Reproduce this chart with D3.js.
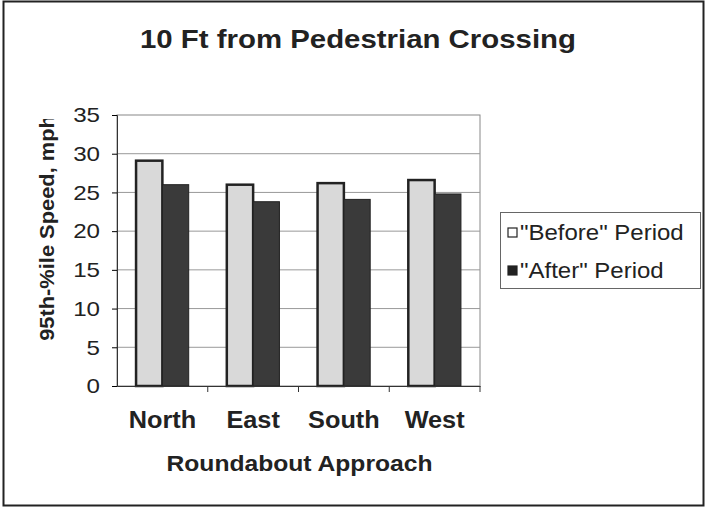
<!DOCTYPE html>
<html>
<head>
<meta charset="utf-8">
<script src="https://cdn.jsdelivr.net/npm/d3@7"></script>
<style>
  body { margin: 0; background: #fff; }
  svg { display: block; font-family: Arial, "Liberation Sans", sans-serif; }
</style>
</head>
<body>
<div id="chart"></div>
<script>
// --- 95th-percentile speed, before vs after ---
const approaches = ["North", "East", "South", "West"];
const beforeValues = [29.1, 26.0, 26.2, 26.6];
const afterValues = [26.0, 23.8, 24.1, 24.8];
const seriesNames = ["\"Before\" Period", "\"After\" Period"];
const yTicks = [0, 5, 10, 15, 20, 25, 30, 35];

const W = 705, H = 507;
const plot = { left: 117, right: 480, top: 115, bottom: 386 };

// the scanned chart has wide lettering, so stretch text sideways a bit
function stretch(sel, k) {
    sel.each(function () {
        const len = this.getComputedTextLength();
        d3.select(this).attr("textLength", len * k).attr("lengthAdjust", "spacingAndGlyphs");
    });
}

const svg = d3.select("#chart")
    .append("svg")
    .attr("width", W)
    .attr("height", H);

// outer frame
svg.append("rect")
    .attr("x", 3.5).attr("y", 1.5)
    .attr("width", 700).attr("height", 504)
    .attr("fill", "none")
    .attr("stroke", "#222")
    .attr("stroke-width", 2);

svg.append("text")
    .attr("x", 358).attr("y", 48)
    .attr("text-anchor", "middle")
    .attr("font-size", 26)
    .attr("font-weight", "bold")
    .attr("fill", "#222")
    .text("10 Ft from Pedestrian Crossing")
    .call(stretch, 1.13);

const x0 = d3.scaleBand().domain(approaches).range([plot.left, plot.right]).paddingInner(0.42).paddingOuter(0.21);
const x1 = d3.scaleBand().domain([0, 1]).range([0, x0.bandwidth()]);
const y = d3.scaleLinear().domain([0, 35]).range([plot.bottom, plot.top]);

// plot box + gridlines
svg.append("rect")
    .attr("x", plot.left).attr("y", plot.top)
    .attr("width", plot.right - plot.left).attr("height", plot.bottom - plot.top)
    .attr("fill", "#fff")
    .attr("stroke", "#888")
    .attr("stroke-width", 1);

svg.append("g")
    .selectAll("line")
    .data(yTicks.filter(t => t > 0 && t < 35))
    .join("line")
    .attr("x1", plot.left).attr("x2", plot.right)
    .attr("y1", d => y(d)).attr("y2", d => y(d))
    .attr("stroke", "#999")
    .attr("stroke-width", 1);

const groups = [beforeValues, afterValues];

approaches.forEach((a, i) => {
    groups.forEach((vals, s) => {
        svg.append("rect")
            .attr("x", x0(a) + x1(s))
            .attr("y", y(vals[i]))
            .attr("width", x1.bandwidth())
            .attr("height", y(0) - y(vals[i]))
            .attr("fill", s === 0 ? "#d9d9d9" : "#3a3a3a")
            .attr("stroke", "#222")
            .attr("stroke-width", s === 0 ? 2.5 : 1);
    });
});

// axes
const yAxis = svg.append("g")
    .attr("transform", `translate(${plot.left},0)`)
    .call(d3.axisLeft(y).tickValues(yTicks).tickSize(5).tickPadding(12));
yAxis.select(".domain").attr("stroke", "#333");
yAxis.selectAll("text")
    .attr("font-size", 21).attr("fill", "#222")
    .attr("font-family", "Arial, 'Liberation Sans', sans-serif")
    .call(stretch, 1.15);

const xAxis = svg.append("g")
    .attr("transform", `translate(0,${plot.bottom})`)
    .call(d3.axisBottom(x0).tickSize(0).tickPadding(26));
xAxis.select(".domain").attr("stroke", "#333");
xAxis.selectAll("text")
    .attr("font-size", 23).attr("font-weight", "bold").attr("fill", "#222")
    .attr("font-family", "Arial, 'Liberation Sans', sans-serif")
    .call(stretch, 1.1);

// category separator ticks
svg.append("g")
    .selectAll("line")
    .data(approaches.slice(1).concat(["end"]))
    .join("line")
    .attr("x1", (d, i) => i < 3 ? x0(d) - x0.step() * x0.paddingInner() / 2 : plot.right)
    .attr("x2", (d, i) => i < 3 ? x0(d) - x0.step() * x0.paddingInner() / 2 : plot.right)
    .attr("y1", plot.bottom).attr("y2", plot.bottom + 6)
    .attr("stroke", "#333");

svg.append("text")
    .attr("x", (plot.left + plot.right) / 2 + 1).attr("y", 471)
    .attr("text-anchor", "middle")
    .attr("font-size", 22)
    .attr("font-weight", "bold")
    .attr("fill", "#222")
    .text("Roundabout Approach")
    .call(stretch, 1.12);

// y title, clipped at top like the reference
svg.append("clipPath").attr("id", "yclip")
    .append("rect").attr("x", 0).attr("y", 119).attr("width", 80).attr("height", 300);
svg.append("g")
    .attr("clip-path", "url(#yclip)")
    .append("text")
    .attr("transform", "translate(54,228) rotate(-90)")
    .attr("text-anchor", "middle")
    .attr("font-size", 21)
    .attr("font-weight", "bold")
    .attr("fill", "#222")
    .text("95th-%ile Speed, mph")
    .call(stretch, 1.04);

// legend
const legend = svg.append("g");
legend.append("rect")
    .attr("x", 500.5).attr("y", 212.5)
    .attr("width", 200).attr("height", 76)
    .attr("fill", "#fff")
    .attr("stroke", "#666");

seriesNames.forEach((n, i) => {
    legend.append("rect")
        .attr("x", 508).attr("y", 228 + i * 38)
        .attr("width", 9).attr("height", 9)
        .attr("fill", i === 0 ? "#fff" : "#222")
        .attr("stroke", "#222")
        .attr("stroke-width", 1.2);
    legend.append("text")
        .attr("x", 520).attr("y", 240 + i * 38)
        .attr("font-size", 22)
        .attr("fill", "#222")
        .text(n)
        .call(stretch, 1.09);
});
</script>
</body>
</html>
